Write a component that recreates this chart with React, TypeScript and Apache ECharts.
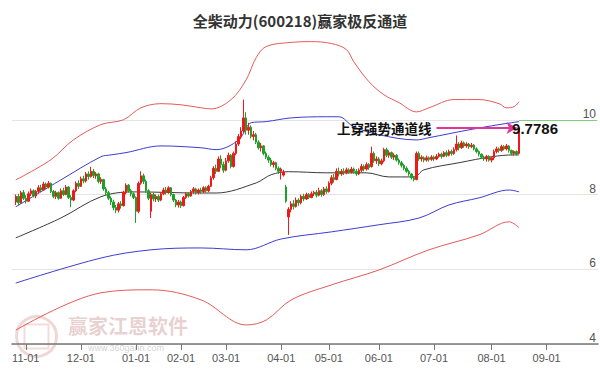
import React, { useEffect, useRef } from 'react';
import * as echarts from 'echarts';

const titleText = '全柴动力(600218)赢家极反通道';
const totalSlots = 234;
const firstCandleIndex = 1;
const monthLabels = ['11-01', '12-01', '01-01', '02-01', '03-01', '04-01', '05-01', '06-01', '07-01', '08-01', '09-01'];
const monthStart = [5, 27, 49, 67, 85, 107, 126, 146, 168, 191, 213];
const yTicks = [4, 6, 8, 10];
const annotationText = '上穿强势通道线';
const lastCloseText = '9.7786';
const lastClose = 9.7786;
const arrowFrom = 169;
const arrowTo = 201;
const labelAt = 199;

// [open, close, low, high]
const candles: number[][] = [
  [7.80, 7.95, 7.72, 8.00], [7.95, 7.78, 7.70, 8.02], [7.78, 8.05, 7.75, 8.10], [8.05, 7.90, 7.85, 8.12],
  [7.90, 7.82, 7.76, 7.98], [7.82, 8.02, 7.80, 8.08], [8.02, 8.10, 7.96, 8.16], [8.10, 7.96, 7.92, 8.14],
  [7.96, 8.08, 7.90, 8.12], [8.08, 8.18, 8.02, 8.25], [8.18, 8.12, 8.06, 8.26], [8.12, 8.28, 8.10, 8.34],
  [8.28, 8.20, 8.14, 8.32], [8.20, 8.30, 8.16, 8.36], [8.30, 8.08, 8.04, 8.32], [8.08, 7.95, 7.90, 8.12],
  [7.95, 8.05, 7.88, 8.10], [8.05, 7.90, 7.86, 8.08], [7.90, 8.10, 7.88, 8.16], [8.10, 8.00, 7.96, 8.18],
  [8.00, 8.20, 7.98, 8.25], [8.20, 7.92, 7.88, 8.22], [7.92, 7.85, 7.66, 7.98], [7.85, 8.10, 7.82, 8.14],
  [8.10, 8.30, 8.06, 8.35], [8.30, 8.22, 8.15, 8.38], [8.22, 8.42, 8.20, 8.48], [8.42, 8.36, 8.30, 8.50],
  [8.36, 8.55, 8.32, 8.60], [8.55, 8.48, 8.40, 8.62], [8.48, 8.62, 8.45, 8.74], [8.62, 8.50, 8.44, 8.68],
  [8.50, 8.55, 8.42, 8.60], [8.55, 8.35, 8.30, 8.58], [8.35, 8.40, 8.28, 8.46], [8.40, 8.15, 8.10, 8.42],
  [8.15, 8.05, 7.98, 8.20], [8.05, 7.90, 7.85, 8.10], [7.90, 7.80, 7.72, 7.95], [7.80, 7.65, 7.58, 7.86],
  [7.65, 7.58, 7.50, 7.72], [7.58, 7.75, 7.52, 7.80], [7.75, 7.70, 7.62, 7.82], [7.70, 8.05, 7.68, 8.10],
  [8.05, 8.25, 8.00, 8.30], [8.25, 8.10, 8.05, 8.28], [8.10, 8.02, 7.95, 8.15], [8.02, 7.92, 7.88, 8.06],
  [7.92, 7.55, 7.24, 7.95], [7.55, 8.30, 7.50, 8.35], [8.30, 8.50, 8.26, 8.62], [8.50, 8.35, 8.28, 8.56],
  [8.35, 8.10, 8.05, 8.40], [8.10, 7.90, 7.85, 8.14], [7.55, 8.00, 7.37, 8.05], [8.00, 7.88, 7.82, 8.05],
  [7.88, 7.95, 7.80, 8.00], [7.95, 7.85, 7.80, 8.00], [7.85, 8.02, 7.82, 8.06], [8.02, 8.12, 7.98, 8.18],
  [8.12, 8.05, 8.00, 8.20], [8.05, 8.18, 8.02, 8.22], [8.18, 8.00, 7.95, 8.20], [8.00, 7.85, 7.80, 8.02],
  [7.85, 7.72, 7.66, 7.88], [7.72, 7.80, 7.65, 7.85], [7.80, 7.70, 7.64, 7.84], [7.70, 7.92, 7.68, 7.96],
  [7.92, 8.02, 7.88, 8.06], [8.02, 7.96, 7.92, 8.06], [7.96, 8.08, 7.94, 8.12], [8.08, 8.15, 8.02, 8.20],
  [8.15, 8.05, 8.00, 8.18], [8.05, 8.12, 8.00, 8.16], [8.12, 8.08, 8.02, 8.18], [8.08, 8.18, 8.04, 8.22],
  [8.18, 8.10, 8.05, 8.22], [8.10, 8.22, 8.06, 8.26], [8.22, 8.45, 8.20, 8.50], [8.45, 8.70, 8.40, 8.76],
  [8.70, 8.62, 8.55, 8.80], [8.62, 8.95, 8.60, 9.02], [8.95, 8.80, 8.70, 9.05], [8.80, 8.65, 8.58, 8.88],
  [8.65, 8.90, 8.62, 8.98], [8.90, 9.05, 8.85, 9.12], [9.05, 8.75, 8.70, 9.08], [8.75, 9.10, 8.72, 9.15],
  [9.10, 9.35, 9.05, 9.42], [9.35, 9.55, 9.30, 9.62], [9.55, 9.70, 9.48, 9.80], [9.70, 10.05, 9.65, 10.54],
  [10.05, 9.72, 9.60, 10.20], [9.72, 9.80, 9.60, 9.92], [9.80, 9.55, 9.50, 9.85], [9.55, 9.60, 9.45, 9.70],
  [9.60, 9.40, 9.35, 9.65], [9.40, 9.25, 9.20, 9.45], [9.25, 9.30, 9.15, 9.38], [9.30, 9.10, 9.05, 9.32],
  [9.10, 9.00, 8.95, 9.15], [9.00, 8.92, 8.85, 9.05], [8.92, 8.80, 8.75, 8.98], [8.80, 8.85, 8.72, 8.90],
  [8.85, 8.70, 8.65, 8.88], [8.70, 8.62, 8.55, 8.75], [8.62, 8.68, 8.40, 8.72], [8.52, 8.60, 8.48, 8.66],
  [8.20, 7.82, 7.78, 8.26], [7.40, 7.60, 6.92, 7.66], [7.60, 7.75, 7.52, 7.82], [7.75, 7.68, 7.60, 7.85],
  [7.68, 7.85, 7.65, 7.92], [7.85, 7.78, 7.70, 7.90], [7.78, 7.95, 7.74, 8.00], [7.95, 7.88, 7.82, 8.02],
  [7.88, 8.00, 7.85, 8.05], [8.00, 7.92, 7.88, 8.04], [7.92, 8.02, 7.90, 8.08], [8.02, 8.06, 7.96, 8.10],
  [8.06, 7.98, 7.92, 8.12], [7.98, 8.10, 7.95, 8.18], [8.10, 8.00, 7.94, 8.14], [8.00, 8.15, 7.96, 8.20],
  [8.15, 8.08, 8.02, 8.22], [8.08, 8.30, 8.05, 8.35], [8.30, 8.45, 8.25, 8.52], [8.45, 8.40, 8.32, 8.55],
  [8.40, 8.62, 8.38, 8.70], [8.62, 8.55, 8.48, 8.72], [8.55, 8.62, 8.50, 8.68], [8.62, 8.58, 8.52, 8.70],
  [8.58, 8.66, 8.54, 8.72], [8.66, 8.60, 8.55, 8.70], [8.60, 8.68, 8.56, 8.74], [8.68, 8.62, 8.56, 8.72],
  [8.62, 8.55, 8.50, 8.68], [8.55, 8.65, 8.52, 8.70], [8.65, 8.75, 8.60, 8.82], [8.75, 8.68, 8.62, 8.80],
  [8.68, 8.80, 8.64, 8.86], [8.80, 8.72, 8.66, 8.84], [8.75, 9.10, 8.72, 9.28], [9.10, 8.90, 8.85, 9.15],
  [8.90, 8.95, 8.82, 9.02], [8.95, 8.82, 8.76, 9.00], [8.82, 8.90, 8.78, 8.96], [8.90, 9.20, 8.86, 9.25],
  [9.20, 9.05, 9.00, 9.25], [9.05, 9.12, 8.98, 9.18], [9.12, 9.00, 8.95, 9.15], [9.00, 9.05, 8.92, 9.10],
  [9.05, 8.92, 8.88, 9.08], [8.92, 8.85, 8.80, 8.96], [8.85, 8.78, 8.72, 8.90], [8.78, 8.70, 8.65, 8.82],
  [8.70, 8.62, 8.58, 8.75], [8.62, 8.55, 8.50, 8.66], [8.55, 8.45, 8.40, 8.58], [8.45, 8.40, 8.35, 8.50],
  [8.40, 9.10, 8.38, 9.15], [9.10, 8.95, 8.90, 9.15], [8.95, 9.00, 8.88, 9.05], [8.98, 8.92, 8.86, 9.02],
  [8.92, 8.98, 8.88, 9.04], [8.98, 8.94, 8.88, 9.02], [8.94, 9.00, 8.90, 9.05], [9.00, 8.95, 8.90, 9.04],
  [8.95, 9.02, 8.92, 9.08], [9.02, 9.08, 8.98, 9.12], [9.08, 9.02, 8.96, 9.12], [9.02, 9.12, 9.00, 9.16],
  [9.12, 9.05, 9.00, 9.18], [9.05, 9.15, 9.02, 9.20], [9.15, 9.10, 9.04, 9.20], [9.10, 9.20, 9.06, 9.26],
  [9.20, 9.35, 9.15, 9.58], [9.35, 9.25, 9.18, 9.40], [9.25, 9.38, 9.22, 9.44], [9.38, 9.30, 9.25, 9.42],
  [9.30, 9.35, 9.25, 9.40], [9.35, 9.28, 9.22, 9.38], [9.28, 9.32, 9.24, 9.38], [9.32, 9.22, 9.18, 9.35],
  [9.22, 9.15, 9.10, 9.26], [9.15, 9.08, 9.02, 9.18], [9.08, 9.00, 8.95, 9.10], [9.00, 8.95, 8.90, 9.04],
  [8.95, 9.02, 8.88, 9.06], [9.02, 8.92, 8.88, 9.05], [8.92, 8.98, 8.86, 9.02], [8.98, 9.15, 8.92, 9.20],
  [9.15, 9.22, 9.10, 9.28], [9.22, 9.18, 9.12, 9.26], [9.18, 9.28, 9.14, 9.33], [9.28, 9.22, 9.18, 9.32],
  [9.22, 9.30, 9.18, 9.35], [9.30, 9.18, 9.12, 9.32], [9.18, 9.10, 9.05, 9.20], [9.10, 9.15, 9.04, 9.18],
  [9.15, 9.08, 9.04, 9.18], [9.10, 9.78, 9.08, 9.80],
];

// channel lines: [slot index, value]
const redUpper = [
  [1, 8.39], [15, 8.93], [24, 9.46], [35, 9.87], [44, 10.0], [51, 10.32], [59, 10.43], [67, 10.40],
  [75, 10.32], [79, 10.29], [87, 10.54], [93, 11.07], [97, 11.66], [101, 11.96], [111, 12.07],
  [119, 12.09], [127, 12.04], [133, 11.88], [136, 11.55], [142, 11.02], [148, 10.67], [154, 10.46],
  [161, 10.21], [166, 10.32], [176, 10.54], [186, 10.54], [194, 10.43], [197, 10.32], [200, 10.35], [202, 10.48],
];
const blueUpper = [
  [1, 7.67], [19, 8.39], [35, 9.01], [39, 9.06], [45, 9.12], [59, 9.30], [75, 9.25], [81, 9.20],
  [90, 9.46], [95, 9.92], [101, 9.95], [111, 10.05], [125, 10.08], [130, 10.08], [136, 9.81],
  [146, 9.60], [161, 9.46], [166, 9.52], [182, 9.73], [194, 9.87], [202, 9.95],
];
const middleLine = [
  [1, 6.84], [19, 7.37], [35, 7.94], [48, 8.07], [75, 8.04], [81, 8.04], [97, 8.31], [103, 8.53],
  [110, 8.61], [125, 8.58], [141, 8.58], [150, 8.47], [160, 8.47], [164, 8.66], [178, 8.85],
  [191, 9.01], [200, 9.06], [202, 9.06],
];
const blueLower = [
  [1, 5.63], [35, 6.30], [55, 6.52], [75, 6.57], [93, 6.52], [107, 6.81], [127, 7.00], [146, 7.19],
  [162, 7.37], [174, 7.72], [186, 7.91], [198, 8.12], [202, 8.07],
];
const redLower = [
  [1, 4.37], [35, 5.37], [55, 5.45], [75, 5.18], [93, 4.51], [101, 4.64], [111, 5.18], [127, 5.58],
  [146, 5.98], [166, 6.52], [186, 6.92], [198, 7.27], [202, 7.11],
];

export default function App() {
  const ref = useRef<HTMLDivElement>(null);
  useEffect(() => {
    const chart = echarts.init(ref.current!, null, { renderer: 'svg' });
    const categories = Array.from({ length: totalSlots }, (_, i) => 'd' + i);
    const labelMap: Record<number, string> = {};
    monthStart.forEach((s, k) => { labelMap[s] = monthLabels[k]; });
    const candleData: any[] = [];
    for (let i = 0; i < firstCandleIndex; i++) candleData.push('-');
    candles.forEach((c) => candleData.push(c));
    const showAt = (idx: number) => labelMap[idx] !== undefined;
    const lineSeries = (name: string, data: number[][], color: string, extra: any = {}) => ({
      name,
      type: 'line',
      data,
      smooth: 0.35,
      showSymbol: false,
      symbol: 'none',
      clip: false,
      silent: true,
      lineStyle: { color, width: 1 },
      z: 3,
      ...extra,
    });
    chart.setOption({
      animation: false,
      backgroundColor: '#ffffff',
      title: {
        text: titleText,
        left: 'center',
        top: 8,
        textStyle: { fontSize: 15, fontWeight: 'bold', color: '#333', fontFamily: 'Noto Sans CJK SC' },
      },
      grid: { left: 12, right: 2, top: 45, bottom: 27 },
      xAxis: {
        type: 'category',
        data: categories,
        boundaryGap: true,
        axisLine: { lineStyle: { color: '#777', width: 1.5 } },
        axisTick: { show: true, interval: (idx: number) => showAt(idx), alignWithLabel: true, length: 6, lineStyle: { color: '#777' } },
        axisLabel: {
          interval: (idx: number) => showAt(idx),
          formatter: (_v: string, idx: number) => labelMap[idx] ?? '',
          color: '#555',
          fontSize: 11,
          margin: 8,
          fontFamily: 'Liberation Sans',
        },
        splitLine: { show: false },
      },
      yAxis: {
        type: 'value',
        position: 'right',
        min: yTicks[0],
        max: 12,
        interval: 2,
        axisLine: { show: false },
        axisTick: { show: false },
        axisLabel: {
          inside: true,
          verticalAlign: 'bottom',
          margin: 2,
          color: '#555',
          fontSize: 12,
          fontFamily: 'Liberation Sans',
          showMaxLabel: false,
          showMinLabel: true,
        },
        splitLine: { show: true, showMaxLine: false, lineStyle: { color: '#e4e4e4', width: 1 } },
      },
      graphic: [
        { type: 'circle', left: 14, top: 314, shape: { r: 20 }, style: { fill: 'none', stroke: 'rgba(200,90,90,0.25)', lineWidth: 3 }, silent: true, z: 0 },
        { type: 'rect', left: 22, top: 322, shape: { width: 24, height: 24 }, style: { fill: 'none', stroke: 'rgba(200,90,90,0.22)', lineWidth: 2 }, silent: true, z: 0 },
        { type: 'text', left: 68, top: 315, style: { text: '赢家江恩软件', fill: 'rgba(190,110,110,0.32)', font: 'bold 20px "Noto Sans CJK SC"' }, silent: true, z: 0 },
        { type: 'text', left: 88, top: 343, style: { text: 'www.360gann.com', fill: 'rgba(150,150,150,0.45)', font: '9px "Liberation Sans"' }, silent: true, z: 0 },
      ],
      series: [
        lineSeries('redUpper', redUpper, '#e65a5a'),
        lineSeries('blueUpper', blueUpper, '#3c3cd2'),
        lineSeries('middle', middleLine, '#3a3a3a', {
          markLine: {
            silent: true,
            symbol: ['none', 'none'],
            label: { show: false },
            lineStyle: { color: '#7ccf7c', width: 1, type: 'solid' },
            data: [[{ coord: [candles.length + firstCandleIndex - 1, 10] }, { coord: [totalSlots - 1, 10] }]],
          },
        }),
        lineSeries('blueLower', blueLower, '#3c3cd2'),
        lineSeries('redLower', redLower, '#e65a5a'),
        {
          name: 'K',
          type: 'candlestick',
          data: candleData,
          barWidth: 2,
          z: 4,
          itemStyle: {
            color: '#f01818',
            color0: '#1f9e2a',
            borderColor: '#f01818',
            borderColor0: '#1f9e2a',
            borderWidth: 1,
          },
          markLine: {
            silent: true,
            symbol: ['none', 'arrow'],
            symbolSize: [9, 10],
            lineStyle: { color: '#e0359a', width: 2, type: 'solid' },
            label: {
              show: true,
              position: 'start',
              distance: 5,
              formatter: annotationText,
              color: '#111',
              fontSize: 13.5,
              fontWeight: 'bold',
              fontFamily: 'Noto Sans CJK SC',
            },
            data: [[{ coord: [arrowFrom, lastClose] }, { coord: [arrowTo, lastClose] }]],
          },
          markPoint: {
            silent: true,
            symbol: 'circle',
            symbolSize: 1,
            itemStyle: { color: 'rgba(0,0,0,0)' },
            label: {
              show: true,
              position: 'right',
              distance: 0,
              formatter: lastCloseText,
              color: '#111',
              fontSize: 15,
              fontWeight: 'bold',
              fontFamily: 'Liberation Sans',
            },
            data: [{ coord: [labelAt, lastClose] }],
          },
        },
      ],
    });
    return () => chart.dispose();
  }, []);
  return <div ref={ref} style={{ position: 'fixed', left: 0, top: 0, width: 600, height: 371 }} />;
}
